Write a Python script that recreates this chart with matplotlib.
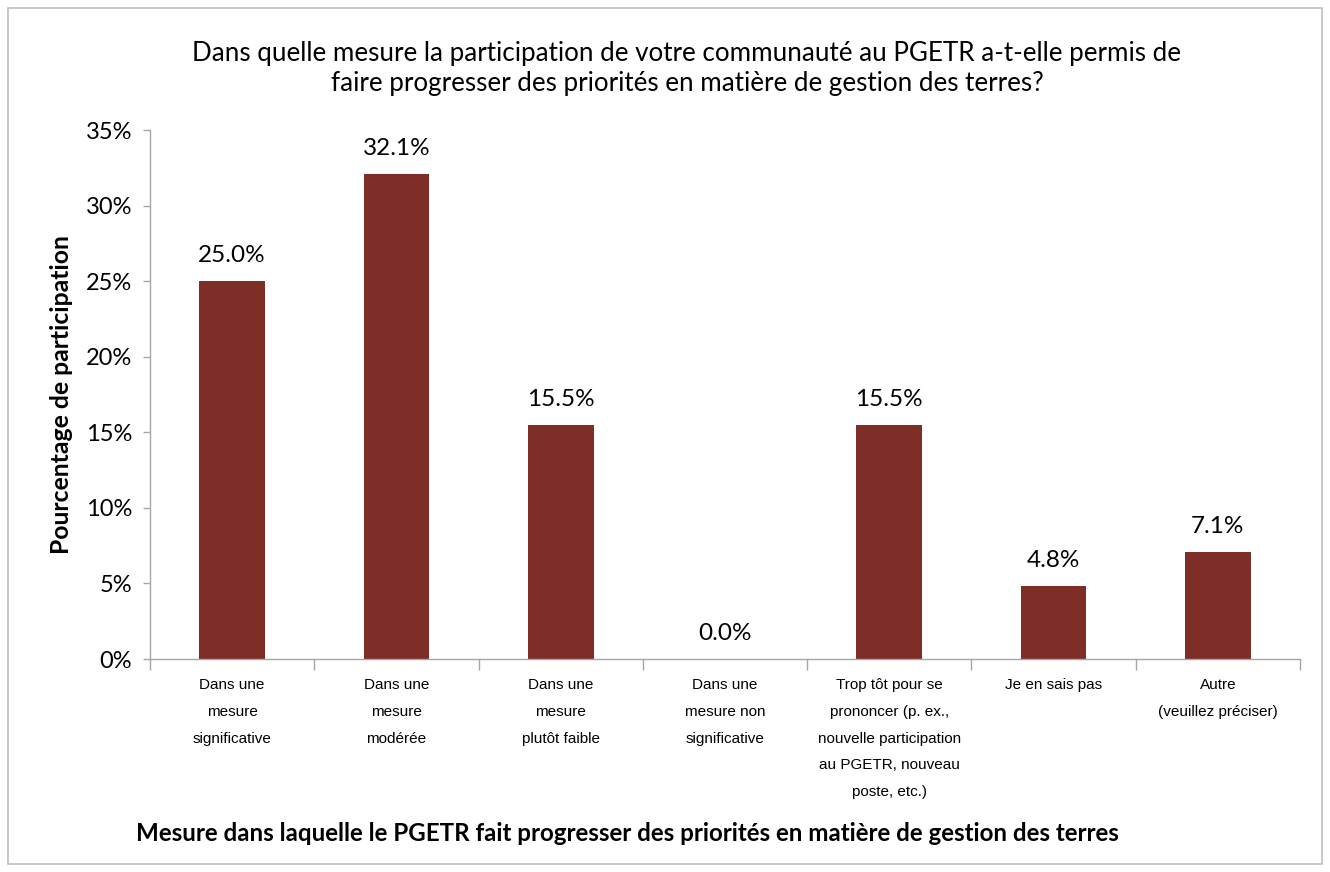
import matplotlib
matplotlib.use("Agg")
import matplotlib.pyplot as plt
from matplotlib.patches import Rectangle
import numpy as np

categories = [
    "Dans une\nmesure\nsignificative",
    "Dans une\nmesure\nmodérée",
    "Dans une\nmesure\nplutôt faible",
    "Dans une\nmesure non\nsignificative",
    "Trop tôt pour se\nprononcer (p. ex.,\nnouvelle participation\nau PGETR, nouveau\nposte, etc.)",
    "Je en sais pas",
    "Autre\n(veuillez préciser)",
]
values = [25.0, 32.1, 15.5, 0.0, 15.5, 4.8, 7.1]
yticks = [0, 5, 10, 15, 20, 25, 30, 35]

title = ("Dans quelle mesure la participation de votre communauté au PGETR a-t-elle permis de\n"
         "faire progresser des priorités en matière de gestion des terres?")
xlabel = "Mesure dans laquelle le PGETR fait progresser des priorités en matière de gestion des terres"
ylabel = "Pourcentage de participation"

W, H = 1330, 872
fig = plt.figure(figsize=(W / 100, H / 100), dpi=100)
fig.patches.append(Rectangle((8 / W, 8 / H), (1322 - 8) / W, (864 - 8) / H,
                             transform=fig.transFigure, fill=False,
                             edgecolor="#BFBFBF", linewidth=1.2))

ax = fig.add_axes([150 / W, 1 - 659 / H, (1300 - 150) / W, (659 - 130) / H])
x = np.arange(len(categories))
ax.bar(x, values, width=0.4, color="#7F2D27")
ax.set_xlim(-0.5, len(categories) - 0.5)
ax.set_ylim(0, 35)
ax.set_yticks(yticks)
ax.set_yticklabels([f"{v}%" for v in yticks], fontsize=17, family="Lato")

for xi, v in zip(x, values):
    ax.text(xi, v + 1.0, f"{v:.1f}%", ha="center", va="bottom", fontsize=17.5, family="Lato")

ax.set_xticks(x)
ax.set_xticklabels(categories, fontsize=11, family="Liberation Sans", linespacing=2.15, va="top")
ax.tick_params(axis="x", length=0, pad=14)
ax.set_xticks(np.arange(-0.5, len(categories)), minor=True)
ax.tick_params(axis="x", which="minor", length=8, color="#A6A6A6", width=1)
ax.tick_params(axis="y", length=5, color="#A6A6A6", width=1, pad=8)

for s in ["top", "right"]:
    ax.spines[s].set_visible(False)
for s in ["left", "bottom"]:
    ax.spines[s].set_color("#A6A6A6")
    ax.spines[s].set_linewidth(1)

fig.text(687 / W, 1 - 69 / H, title, ha="center", va="center", fontsize=18.7,
         family="Lato", linespacing=1.25)
fig.text(62 / W, 1 - 395 / H, ylabel, ha="center", va="center", rotation=90,
         fontsize=17.8, fontweight="bold", family="Lato")
fig.text(627 / W, 1 - 833 / H, xlabel, ha="center", va="center",
         fontsize=17.4, fontweight="bold", family="Lato")

fig.savefig("out.png", dpi=100)
